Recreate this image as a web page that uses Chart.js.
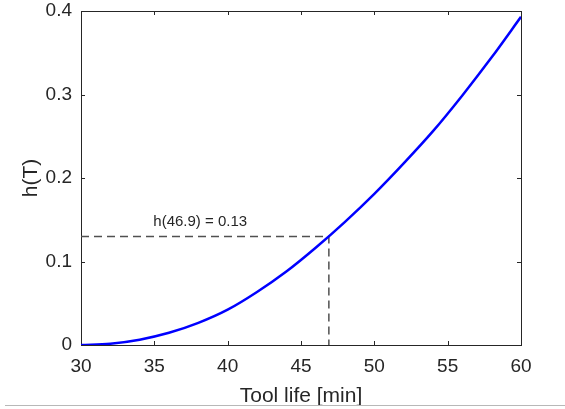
<!DOCTYPE html>
<html>
<head>
<meta charset="utf-8">
<script src="https://cdn.jsdelivr.net/npm/chart.js@4/dist/chart.umd.min.js"></script>
<style>
  html, body { margin: 0; padding: 0; background: #ffffff; }
  #wrap { width: 565px; height: 409px; position: relative; }
</style>
</head>
<body>
<div id="wrap"><canvas id="c" width="565" height="409"></canvas></div>
<script>
// Hazard rate h(T) against tool life T
const toolLife = [30, 32, 34, 36, 38, 40, 42, 44, 46, 48, 50, 52, 54, 56, 58, 60];
const hazard   = [0.000, 0.0016, 0.0064, 0.0146, 0.0265, 0.0423, 0.0635, 0.0880, 0.1165, 0.1475, 0.1810, 0.2175, 0.2561, 0.2989, 0.3445, 0.393];

// Marked operating point
const markT = 46.9;
const markH = 0.13;
const markLabel = 'h(' + markT + ') = ' + markH;
const labelAt = { t: 35, h: 0.147 };

// Axis ticks
const xTicks = [30, 35, 40, 45, 50, 55, 60];
const yTicks = [0, 0.1, 0.2, 0.3, 0.4];

const FONT = '"Liberation Sans", Arial, Helvetica, sans-serif';
const INK = '#262626';

const curve = toolLife.map((t, i) => ({ x: t, y: hazard[i] }));
const guide = [
  { x: xTicks[0], y: markH },
  { x: markT, y: markH },
  { x: markT, y: yTicks[0] }
];

// Box around the plot area with inward tick marks on all four sides
const axesBox = {
  id: 'axesBox',
  beforeDatasetsDraw(chart) {
    const { ctx, chartArea: a, scales } = chart;
    const len = 4;
    ctx.save();
    ctx.strokeStyle = INK;
    ctx.lineWidth = 1;
    ctx.strokeRect(Math.round(a.left) + 0.5, Math.round(a.top) + 0.5,
                   Math.round(a.right - a.left), Math.round(a.bottom - a.top));
    ctx.beginPath();
    scales.x.ticks.forEach(tk => {
      const px = Math.round(scales.x.getPixelForValue(tk.value)) + 0.5;
      ctx.moveTo(px, a.bottom); ctx.lineTo(px, a.bottom - len);
      ctx.moveTo(px, a.top); ctx.lineTo(px, a.top + len);
    });
    scales.y.ticks.forEach(tk => {
      const py = Math.round(scales.y.getPixelForValue(tk.value)) + 0.5;
      ctx.moveTo(a.left, py); ctx.lineTo(a.left + len, py);
      ctx.moveTo(a.right, py); ctx.lineTo(a.right - len, py);
    });
    ctx.stroke();
    ctx.restore();
  },
  afterDraw(chart) {
    const { ctx, scales } = chart;
    ctx.save();
    // annotation text
    ctx.fillStyle = INK;
    ctx.font = '15px ' + FONT;
    ctx.textAlign = 'left';
    ctx.textBaseline = 'middle';
    ctx.fillText(markLabel, scales.x.getPixelForValue(labelAt.t) - 1, scales.y.getPixelForValue(labelAt.h));
    // rule under the figure
    ctx.strokeStyle = '#b8b8b8';
    ctx.lineWidth = 1.2;
    ctx.beginPath();
    ctx.moveTo(5, 405.5);
    ctx.lineTo(chart.width, 405.5);
    ctx.stroke();
    ctx.restore();
  }
};

new Chart(document.getElementById('c'), {
  type: 'line',
  data: {
    datasets: [
      {
        data: curve,
        borderColor: '#0000ff',
        borderWidth: 2.5,
        pointRadius: 0,
        cubicInterpolationMode: 'monotone',
        fill: false
      },
      {
        data: guide,
        borderColor: '#505050',
        borderWidth: 1.5,
        borderDash: [8, 5],
        pointRadius: 0,
        tension: 0,
        fill: false
      }
    ]
  },
  options: {
    responsive: false,
    animation: false,
    events: [],
    layout: { padding: { top: 11, right: 44, left: 0, bottom: 0 } },
    plugins: { legend: { display: false }, tooltip: { enabled: false } },
    scales: {
      x: {
        type: 'linear',
        min: xTicks[0],
        max: xTicks[xTicks.length - 1],
        afterBuildTicks(s) { s.ticks = xTicks.map(v => ({ value: v })); },
        afterFit(s) { s.height = 64; s.paddingRight = 0; s.paddingLeft = 0; },
        grid: { display: false, drawTicks: false },
        border: { display: false },
        ticks: { color: INK, font: { family: FONT, size: 19 }, padding: 10, maxRotation: 0 },
        title: { display: true, text: 'Tool life [min]', color: INK,
                 font: { family: FONT, size: 21 }, padding: { top: 0, bottom: 0 } }
      },
      y: {
        type: 'linear',
        min: yTicks[0],
        max: yTicks[yTicks.length - 1],
        afterBuildTicks(s) { s.ticks = yTicks.map(v => ({ value: v })); },
        afterFit(s) { s.width = 81; s.paddingTop = 0; s.paddingBottom = 0; },
        grid: { display: false, drawTicks: false },
        border: { display: false },
        ticks: { color: INK, font: { family: FONT, size: 19 }, padding: 9 },
        title: { display: true, text: 'h(T)', color: INK,
                 font: { family: FONT, size: 21 }, padding: { top: 19, bottom: 0 } }
      }
    }
  },
  plugins: [axesBox]
});
</script>
</body>
</html>
